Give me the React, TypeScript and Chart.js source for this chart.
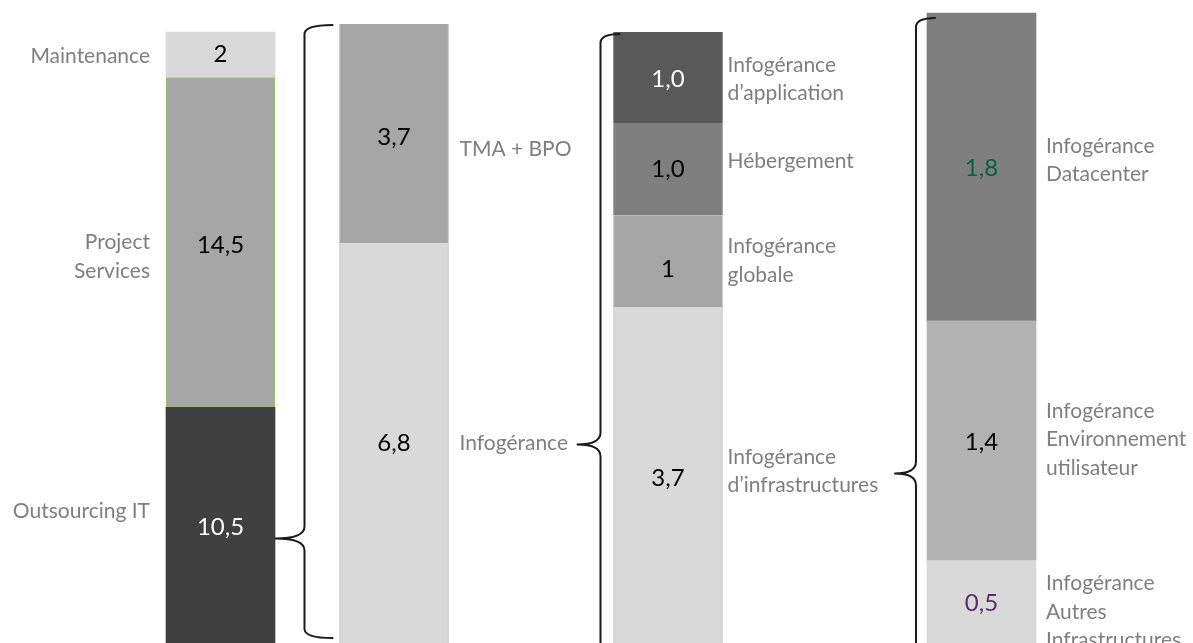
import { useEffect, useRef } from 'react';
import { Chart, registerables } from 'chart.js';

Chart.register(...registerables);

// ---------------- data (segments listed top to bottom) ----------------
const bar1Categories = ['Maintenance', 'Project\nServices', 'Outsourcing IT'];
const bar1Values = [2, 14.5, 10.5];
const bar1ValueLabels = ['2', '14,5', '10,5'];

const bar2Categories = ['TMA + BPO', 'Infogérance'];
const bar2Values = [3.7, 6.8];
const bar2ValueLabels = ['3,7', '6,8'];

const bar3Categories = [
  'Infogérance\nd’application',
  'Hébergement',
  'Infogérance\nglobale',
  'Infogérance\nd’infrastructures',
];
const bar3Values = [1.0, 1.0, 1, 3.7];
const bar3ValueLabels = ['1,0', '1,0', '1', '3,7'];

const bar4Categories = [
  'Infogérance\nDatacenter',
  'Infogérance\nEnvironnement\nutilisateur',
  'Infogérance\nAutres\nInfrastructures',
];
const bar4Values = [1.8, 1.4, 0.5];
const bar4ValueLabels = ['1,8', '1,4', '0,5'];

// ---------------- layout & style ----------------
const W = 1193;
const H = 646;
const VIEW_H = 643;
const BAR_WIDTH = 109;
const barCenters = [220.5, 394, 668, 981.5];
const barTops = [32, 24, 32, 13];
const labelSide = ['left', 'right', 'right', 'right'];
const labelGap = [16, 11, 5, 10];

const segColors = [
  ['#d9d9d9', '#a6a6a6', '#404040'],
  ['#a6a6a6', '#d9d9d9'],
  ['#595959', '#7f7f7f', '#a6a6a6', '#d9d9d9'],
  ['#7f7f7f', '#b2b2b2', '#d9d9d9'],
];
const segBorders = [
  ['#d9d9d9', '#92d050', '#404040'],
  ['#b8b8b8', '#c4c4c4'],
  ['#595959', '#7f7f7f', '#b0b0b0', '#c4c4c4'],
  ['#7f7f7f', '#b2b2b2', '#d9d9d9'],
];
const valueColors = [
  ['#000000', '#000000', '#ffffff'],
  ['#000000', '#000000'],
  ['#ffffff', '#000000', '#000000', '#000000'],
  ['#0b5e44', '#000000', '#5a2d6a'],
];
const labelOffsets = [
  [1.5, 14.5, -15],
  [16, -1],
  [1.5, -8, -0.5, -5],
  [-6.5, -1, 9],
];
const valueOffsets = [
  [0, 3, 1],
  [4, -1],
  [1, 0, 8, 2],
  [1, 2, 0],
];
// braces: from segment (bar, seg) to the full height of target bar
const braces = [
  { fromBar: 0, fromSeg: 2, toBar: 1, tipDx: -64, lineDx: -35, endDx: -7, topDy: 1, bottom: H - 8, tipDy: 12 },
  { fromBar: 1, fromSeg: 1, toBar: 2, tipDx: -36, lineDx: -13, endDx: 6, topDy: 2, bottom: H + 20, tipDy: 0 },
  { fromBar: 2, fromSeg: 3, toBar: 3, tipDx: -32, lineDx: -11, endDx: 8, topDy: 5, bottom: H + 20, tipDy: -3 },
];

const LABEL_FONT = '21px Lato, "Open Sans", sans-serif';
const VALUE_FONT = '24px Lato, "Open Sans", sans-serif';
const LABEL_COLOR = '#7f7f7f';
const LINE_H = 28.5;

const bars = [
  { categories: bar1Categories, values: bar1Values, valueLabels: bar1ValueLabels },
  { categories: bar2Categories, values: bar2Values, valueLabels: bar2ValueLabels },
  { categories: bar3Categories, values: bar3Values, valueLabels: bar3ValueLabels },
  { categories: bar4Categories, values: bar4Values, valueLabels: bar4ValueLabels },
];

export default function App() {
  const canvasRef = useRef<HTMLCanvasElement | null>(null);

  useEffect(() => {
    const canvas = canvasRef.current;
    if (!canvas) return;

    const datasets: any[] = [];
    const dsIndex: number[][] = bars.map(() => []);
    const scales: any = {
      x: { type: 'linear', min: 0, max: W, display: false, offset: false },
    };

    bars.forEach((bar, b) => {
      const total = bar.values.reduce((a, v) => a + v, 0);
      scales['y' + b] = {
        type: 'linear',
        display: false,
        stacked: true,
        min: 0,
        max: (total * H) / (H - barTops[b]),
      };
      // stack from bottom to top
      for (let s = bar.values.length - 1; s >= 0; s--) {
        dsIndex[b][s] = datasets.length;
        const side = b === 1 || b === 2 ? { left: 1, right: 1, top: 0, bottom: 0 } : b === 0 && s === 1 ? 1 : 0;
        datasets.push({
          label: bar.categories[s].replace(/\n/g, ' '),
          data: [{ x: barCenters[b], y: bar.values[s] }],
          yAxisID: 'y' + b,
          backgroundColor: segColors[b][s],
          borderColor: segBorders[b][s],
          borderWidth: side,
          borderSkipped: false,
          grouped: false,
          barThickness: BAR_WIDTH,
        });
      }
    });

    const overlay = {
      id: 'overlay',
      afterDatasetsDraw(chart: any) {
        const ctx = chart.ctx as CanvasRenderingContext2D;
        const geo = (b: number, s: number) => {
          const el = chart.getDatasetMeta(dsIndex[b][s]).data[0] as any;
          return {
            left: el.x - el.width / 2,
            right: el.x + el.width / 2,
            cx: el.x,
            top: Math.min(el.y, el.base),
            bottom: Math.max(el.y, el.base),
          };
        };
        ctx.save();
        bars.forEach((bar, b) => {
          bar.values.forEach((_, s) => {
            const g = geo(b, s);
            const cy = (g.top + g.bottom) / 2;
            // value label
            ctx.font = VALUE_FONT;
            ctx.fillStyle = valueColors[b][s];
            ctx.textAlign = 'center';
            ctx.textBaseline = 'middle';
            ctx.fillText(bar.valueLabels[s], g.cx, cy + valueOffsets[b][s]);
            // category label
            const lines = bar.categories[s].split('\n');
            ctx.font = LABEL_FONT;
            ctx.fillStyle = LABEL_COLOR;
            const left = labelSide[b] === 'left';
            ctx.textAlign = left ? 'right' : 'left';
            const x = left ? g.left - labelGap[b] : g.right + labelGap[b];
            const c = cy + labelOffsets[b][s];
            lines.forEach((ln, i) => {
              ctx.fillText(ln, x, c + (i - (lines.length - 1) / 2) * LINE_H);
            });
          });
        });
        // braces
        ctx.strokeStyle = '#1a1a1a';
        ctx.lineWidth = 2;
        ctx.lineJoin = 'round';
        ctx.lineCap = 'round';
        braces.forEach((br) => {
          const src = geo(br.fromBar, br.fromSeg);
          const tgtTop = geo(br.toBar, 0);
          const tgtLeft = tgtTop.left;
          const top = tgtTop.top + br.topDy;
          const bottom = br.bottom;
          const xv = tgtLeft + br.lineDx;
          const xe = tgtLeft + br.endDx;
          const xt = tgtLeft + br.tipDx;
          const ty = (src.top + src.bottom) / 2 + br.tipDy;
          ctx.beginPath();
          ctx.moveTo(xe, top);
          ctx.quadraticCurveTo(xv, top, xv, top + 9);
          ctx.lineTo(xv, ty - 12);
          ctx.quadraticCurveTo(xv, ty, xt, ty);
          ctx.quadraticCurveTo(xv, ty, xv, ty + 12);
          ctx.lineTo(xv, bottom - 9);
          ctx.quadraticCurveTo(xv, bottom, xe, bottom);
          ctx.stroke();
        });
        ctx.restore();
      },
    };

    const chart = new Chart(canvas, {
      type: 'bar',
      data: { datasets },
      options: {
        responsive: false,
        animation: false,
        layout: { padding: 0 },
        scales,
        plugins: {
          legend: { display: false },
          tooltip: { enabled: false },
          title: { display: false },
        },
      },
      plugins: [overlay],
    } as any);

    return () => chart.destroy();
  }, []);

  return (
    <div
      style={{
        position: 'fixed',
        left: 0,
        top: 0,
        width: W,
        height: VIEW_H,
        overflow: 'hidden',
        background: '#ffffff',
      }}
    >
      <canvas ref={canvasRef} width={W} height={H} style={{ display: 'block', width: W, height: H }} />
    </div>
  );
}
